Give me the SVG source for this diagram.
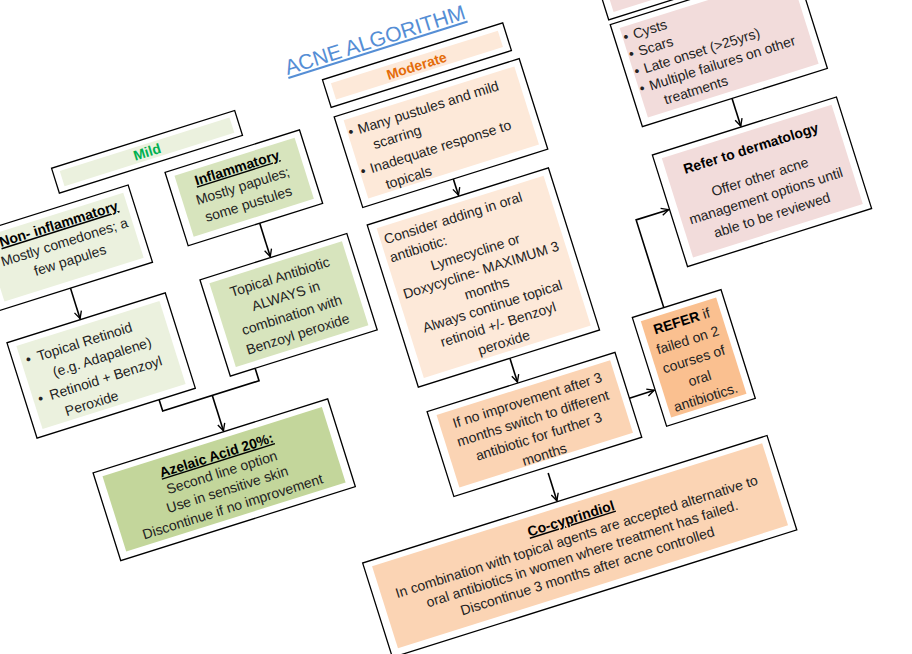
<svg xmlns="http://www.w3.org/2000/svg" width="912" height="654" viewBox="0 0 912 654">
<style>
.o{fill:#fff;stroke:#000;stroke-width:1.3}
text{font-family:"Liberation Sans",Arial,sans-serif;font-size:14px;fill:#222}
.c{text-anchor:middle}
.b{font-weight:bold;fill:#000}
.u{text-decoration:underline}
.ln{fill:none;stroke:#000;stroke-width:1.6}
</style>
<defs>
<marker id="ar" viewBox="0 0 10 10" refX="9" refY="5" markerWidth="9" markerHeight="9" orient="auto" markerUnits="userSpaceOnUse">
<path d="M1,1 L9,5 L1,9" fill="none" stroke="#000" stroke-width="1.5"/>
</marker>
</defs>
<rect width="912" height="654" fill="#fff"/>
<g transform="rotate(-17.5 456 327)">
<text id="title" x="465" y="36" class="c u" style="font-size:21px;fill:#558ed5">ACNE ALGORITHM</text>

<g id="mild"><rect class="o" x="118" y="54" width="192" height="26"/><rect x="125" y="59" width="178" height="16" fill="#ebf1de"/>
<text x="214" y="72" class="c b" style="fill:#00b050">Mild</text></g>

<g id="noninfl"><rect class="o" x="25" y="93" width="161" height="81"/><rect x="33" y="99" width="146" height="68" fill="#ebf1de"/>
<text x="108" y="114" class="c b u">Non- inflammatory</text>
<text x="108" y="133" class="c">Mostly comedones; a</text>
<text x="108" y="152" class="c">few papules</text></g>

<g id="infl"><rect class="o" x="225" y="92" width="141" height="77"/><rect x="233" y="98" width="126" height="64" fill="#d7e4bd"/>
<text x="295" y="114" class="c b u">Inflammatory</text>
<text x="295" y="133" class="c">Mostly papules;</text>
<text x="295" y="152" class="c">some pustules</text></g>

<g id="retinoid"><rect class="o" x="23" y="207" width="166" height="100"/><rect x="31" y="213" width="150" height="87" fill="#ebf1de"/>
<text x="36" y="234">•</text><text x="48" y="234">Topical Retinoid</text>
<text x="58" y="254">(e.g. Adapalene)</text>
<text x="36" y="275">•</text><text x="48" y="275">Retinoid + Benzoyl</text>
<text x="58" y="295">Peroxide</text></g>

<g id="antibiotic"><rect class="o" x="226" y="205" width="154" height="101"/><rect x="234" y="211" width="139" height="88" fill="#d7e4bd"/>
<text x="303" y="231" class="c">Topical Antibiotic</text>
<text x="303" y="251" class="c">ALWAYS in</text>
<text x="303" y="271" class="c">combination with</text>
<text x="303" y="291" class="c">Benzoyl peroxide</text></g>

<g id="azelaic"><rect class="o" x="66" y="357" width="246" height="92"/><rect x="74" y="363" width="230" height="79" fill="#c3d69b"/>
<text x="189" y="382" class="c b u">Azelaic Acid 20%:</text>
<text x="189" y="400" class="c">Second line option</text>
<text x="189" y="418" class="c">Use in sensitive skin</text>
<text x="189" y="436" class="c">Discontinue if no improvement</text></g>

<g id="moderate"><rect class="o" x="403" y="51" width="189" height="29"/><rect x="410" y="57" width="175" height="17" fill="#fde9d9"/>
<text x="497" y="71" class="c b" style="fill:#e46c0a">Moderate</text></g>

<g id="mod1"><rect class="o" x="403" y="90" width="194" height="95"/><rect x="411" y="96" width="179" height="82" fill="#fde9d9"/>
<text x="412" y="114">•</text><text x="422" y="114">Many pustules and mild</text>
<text x="432" y="133">scarring</text>
<text x="412" y="155">•</text><text x="422" y="155">Inadequate response to</text>
<text x="432" y="175">topicals</text></g>

<g id="mod2"><rect class="o" x="402" y="203" width="190" height="170"/><rect x="410" y="209" width="175" height="157" fill="#fde9d9"/>
<text x="414" y="227">Consider adding in oral</text>
<text x="414" y="246">antibiotic:</text>
<text x="497" y="266" class="c">Lymecycline or</text>
<text x="497" y="285" class="c">Doxycycline- MAXIMUM 3</text>
<text x="497" y="304" class="c">months</text>
<text x="497" y="323" class="c">Always continue topical</text>
<text x="497" y="342" class="c">retinoid +/- Benzoyl</text>
<text x="497" y="361" class="c">peroxide</text></g>

<g id="mod3"><rect class="o" x="403" y="399" width="197" height="89"/><rect x="411" y="405" width="182" height="76" fill="#fbd4b4"/>
<text x="502" y="423" class="c">If no improvement after 3</text>
<text x="502" y="442" class="c">months switch to different</text>
<text x="502" y="461" class="c">antibiotic for further 3</text>
<text x="502" y="480" class="c">months</text></g>

<g id="refer"><rect class="o" x="627" y="371" width="93" height="114"/><rect x="634" y="377" width="79" height="101" fill="#fac090"/>
<text x="673" y="394" class="c"><tspan class="b">REFER</tspan> if</text>
<text x="673" y="414" class="c">failed on 2</text>
<text x="673" y="434" class="c">courses of</text>
<text x="673" y="454" class="c">oral</text>
<text x="673" y="474" class="c">antibiotics.</text></g>

<g id="cocyp"><rect class="o" x="296" y="524" width="424" height="99"/><rect x="304" y="530" width="409" height="86" fill="#fbd4b4"/>
<text x="508" y="549" class="c b u">Co-cyprindiol</text>
<text x="508" y="568" class="c">In combination with topical agents are accepted alternative to</text>
<text x="508" y="586" class="c">oral antibiotics in women where treatment has failed.</text>
<text x="508" y="604" class="c">Discontinue 3 months after acne controlled</text></g>

<g id="severe"><rect class="o" x="694" y="51" width="194" height="29"/><rect x="701" y="57" width="180" height="17" fill="#f2dcdb"/></g>

<g id="severe1"><rect class="o" x="694" y="85" width="194" height="107"/><rect x="702" y="91" width="179" height="94" fill="#f2dcdb"/>
<text x="703" y="106">•</text><text x="713" y="106">Cysts</text>
<text x="703" y="124">•</text><text x="713" y="124">Scars</text>
<text x="703" y="142">•</text><text x="713" y="142">Late onset (&gt;25yrs)</text>
<text x="703" y="160">•</text><text x="713" y="160">Multiple failures on other</text>
<text x="723" y="178">treatments</text></g>

<g id="derm"><rect class="o" x="695" y="222" width="193" height="117"/><rect x="703" y="228" width="178" height="104" fill="#f2dcdb"/>
<text x="791" y="250" class="c b">Refer to dermatology</text>
<text x="791" y="280" class="c">Offer other acne</text>
<text x="791" y="300" class="c">management options until</text>
<text x="791" y="320" class="c">able to be reviewed</text></g>

<g id="connectors">
<path class="ln" d="M100,174 V206" marker-end="url(#ar)"/>
<path class="ln" d="M300,169 V204" marker-end="url(#ar)"/>
<path class="ln" d="M151,307 V319 H252 V306"/>
<path class="ln" d="M203,319 V356" marker-end="url(#ar)"/>
<path class="ln" d="M498,185 V202" marker-end="url(#ar)"/>
<path class="ln" d="M498,373 V398" marker-end="url(#ar)"/>
<path class="ln" d="M600,447 H626" marker-end="url(#ar)"/>
<path class="ln" d="M660,371 V279 H694" marker-end="url(#ar)"/>
<path class="ln" d="M788,192 V221" marker-end="url(#ar)"/>
<path class="ln" d="M500,494 V523" marker-end="url(#ar)"/>
</g>
</g>
</svg>
